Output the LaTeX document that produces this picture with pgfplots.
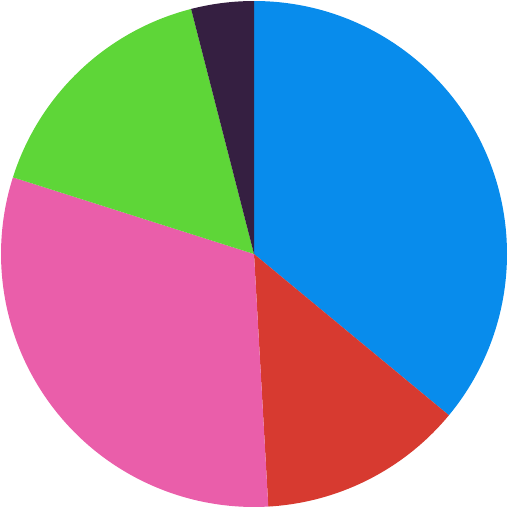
\documentclass[border=0pt]{standalone}
\usepackage{pgfplots}
\usepackage{pgfplotstable}
\pgfplotsset{compat=1.18}
\definecolor{cblue}{RGB}{8,140,236}
\definecolor{cred}{RGB}{215,58,48}
\definecolor{cpink}{RGB}{234,94,170}
\definecolor{cgreen}{RGB}{94,214,56}
\definecolor{cdark}{RGB}{53,31,65}
\pgfplotstableread{
value color
36.0 cblue
13.1 cred
30.8 cpink
16.1 cgreen
4.0 cdark
}\piedata
\begin{document}
\begin{tikzpicture}
\begin{axis}[hide axis, scale only axis, width=7cm, height=7cm,
  xmin=-1, xmax=1, ymin=-1, ymax=1]
\addplot[draw=none, forget plot] coordinates {(-1,-1) (1,1)};
\pgfplotstablegetrowsof{\piedata}
\pgfmathtruncatemacro\N{\pgfplotsretval-1}
\def\start{90}
\pgfplotsforeachungrouped \i in {0,...,\N}{%
  \pgfplotstablegetelem{\i}{value}\of\piedata \let\v\pgfplotsretval
  \pgfplotstablegetelem{\i}{color}\of\piedata \let\c\pgfplotsretval
  \pgfmathsetmacro\stop{\start-\v*3.6}%
  \edef\cmd{\noexpand\fill[\c] (axis cs:0,0) -- (axis cs:{0.996*cos(\start)},{0.996*sin(\start)}) arc[start angle=\start, end angle=\stop, radius=3.486cm] -- cycle;}%
  \cmd
  \let\start\stop
}
\end{axis}
\end{tikzpicture}
\end{document}
